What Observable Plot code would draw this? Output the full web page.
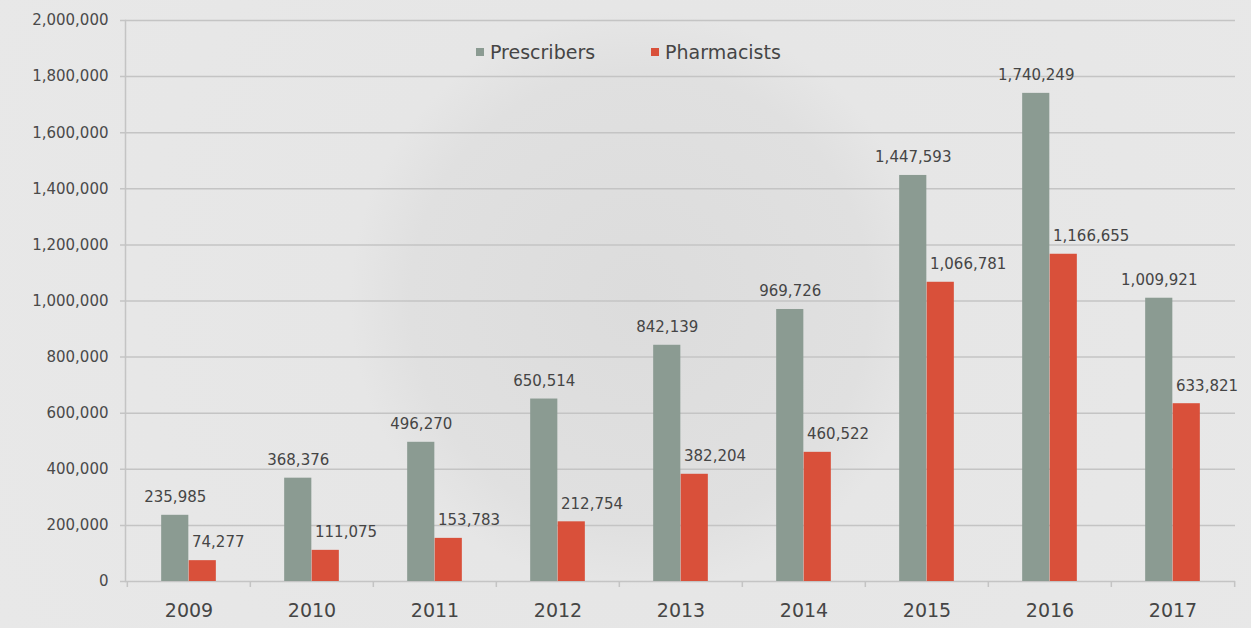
<!DOCTYPE html>
<html>
<head>
<meta charset="utf-8">
<script src="https://cdn.jsdelivr.net/npm/d3@7"></script>
<script src="https://cdn.jsdelivr.net/npm/@observablehq/plot@0.6"></script>
<style>
  html, body { margin: 0; padding: 0; background: #e6e6e6; }
  #wrap { position: relative; width: 1251px; height: 628px; overflow: hidden;
          background: radial-gradient(circle at 640px 300px, #dcdcdc 0px, #e0e0e0 230px, #e6e6e6 290px, #e8e8e8 100%); }
  #legend { position: absolute; top: 41px; left: 476px; display: flex; gap: 56px;
            font-family: "DejaVu Sans", sans-serif; font-size: 19px; color: #454545; }
  #legend span.item { display: flex; align-items: center; }
  #legend i { display: inline-block; width: 8px; height: 8px; margin-right: 6px; }
</style>
</head>
<body>
<div id="wrap">
  <div id="chart"></div>
  <div id="legend"></div>
</div>
<script>
const years = ["2009","2010","2011","2012","2013","2014","2015","2016","2017"];
const prescribers = [235985, 368376, 496270, 650514, 842139, 969726, 1447593, 1740249, 1009921];
const pharmacists = [74277, 111075, 153783, 212754, 382204, 460522, 1066781, 1166655, 633821];
const seriesNames = ["Prescribers", "Pharmacists"];
const seriesColors = ["#8b9b92", "#d9503a"];
const yTicks = [0, 200000, 400000, 600000, 800000, 1000000, 1200000, 1400000, 1600000, 1800000, 2000000];

const W = 1251, H = 628;
const mL = 125, mR = 16, mT = 20, mB = 47;
const step = (W - mL - mR) / years.length;
const barW = 27.5;
const inset = (step - barW) / 2;

const data = years.map((y, i) => ({year: y, prescribers: prescribers[i], pharmacists: pharmacists[i]}));
const fmt = d3.format(",");
const font = "DejaVu Sans, sans-serif";

const chart = Plot.plot({
  width: W, height: H,
  marginLeft: mL, marginRight: mR, marginTop: mT, marginBottom: mB,
  style: {background: "transparent", fontFamily: font, color: "#454545"},
  x: {domain: years, padding: 0, axis: null},
  y: {domain: [0, 2000000], axis: null},
  marks: [
    Plot.ruleY(yTicks, {stroke: "#c4c4c4", strokeWidth: 1.5, insetLeft: -5}),
    Plot.frame({anchor: "left", stroke: "#c4c4c4", strokeWidth: 1.5}),
    Plot.ruleX(years, {x: d => d, y1: 0, y2: 0, insetBottom: -6, dx: -step / 2, stroke: "#c4c4c4", strokeWidth: 1.5}),
    Plot.ruleX([years[years.length - 1]], {x: d => d, y1: 0, y2: 0, insetBottom: -6, dx: step / 2, stroke: "#c4c4c4", strokeWidth: 1.5}),
    Plot.axisY({ticks: yTicks, tickFormat: fmt, tickSize: 0, tickPadding: 17, fontSize: 15, label: null, fill: "#4a4a4a"}),
    Plot.axisX({anchor: "bottom", tickSize: 0, tickPadding: 22, fontSize: 19, label: null, fill: "#454545"}),
    Plot.barY(data, {x: "year", y: "prescribers", fill: seriesColors[0], insetLeft: inset, insetRight: inset, dx: -barW / 2}),
    Plot.barY(data, {x: "year", y: "pharmacists", fill: seriesColors[1], insetLeft: inset, insetRight: inset, dx: barW / 2}),
    Plot.text(data, {x: "year", y: "prescribers", text: d => fmt(d.prescribers), dx: -barW / 2, dy: -18, fontSize: 15, fill: "#454545"}),
    Plot.text(data, {x: "year", y: "pharmacists", text: d => fmt(d.pharmacists), dx: 3, dy: -18, textAnchor: "start", fontSize: 15, fill: "#454545"})
  ]
});
document.getElementById("chart").appendChild(chart);

const legend = document.getElementById("legend");
seriesNames.forEach((n, i) => {
  const s = document.createElement("span");
  s.className = "item";
  s.innerHTML = `<i style="background:${seriesColors[i]}"></i>${n}`;
  legend.appendChild(s);
});
</script>
</body>
</html>
